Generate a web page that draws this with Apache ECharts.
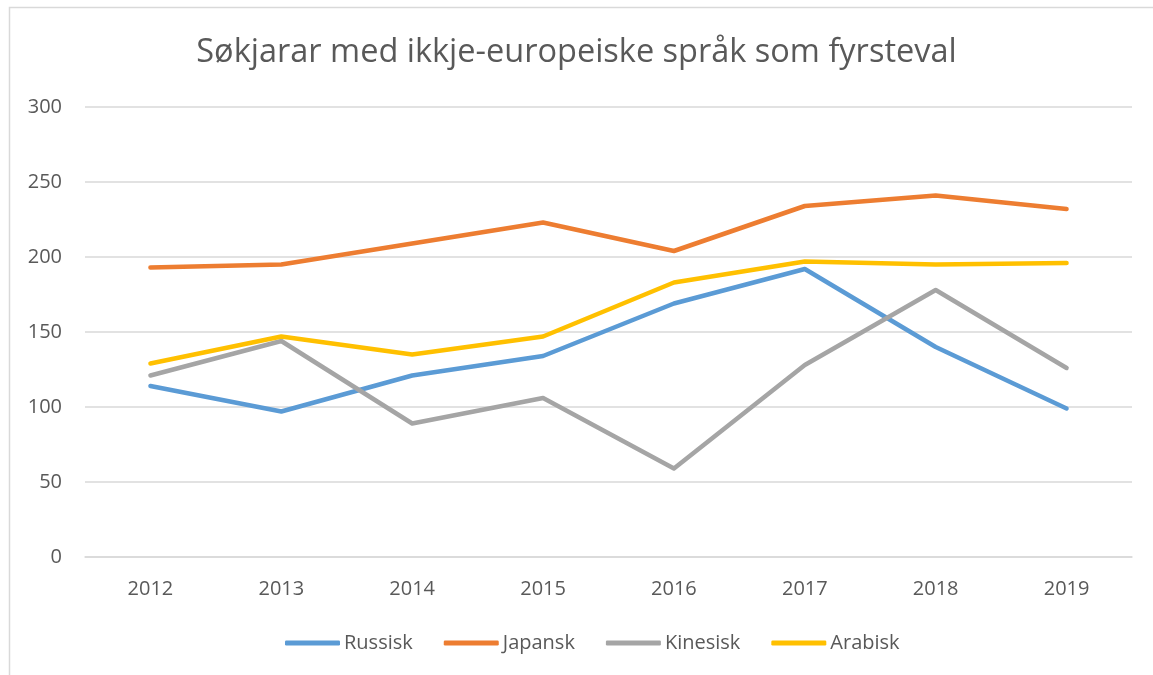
<!DOCTYPE html>
<html>
<head>
<meta charset="utf-8">
<script src="https://cdn.jsdelivr.net/npm/echarts@6/dist/echarts.min.js"></script>
<style>
  html, body { margin: 0; padding: 0; background: #fff; }
  #chart { width: 1153px; height: 675px; }
</style>
</head>
<body>
<div id="chart"></div>
<script>
// data
var years = ['2012', '2013', '2014', '2015', '2016', '2017', '2018', '2019'];
var russisk = [114, 97, 121, 134, 169, 192, 140, 99];
var japansk = [193, 195, 209, 223, 204, 234, 241, 232];
var kinesisk = [121, 144, 89, 106, 59, 128, 178, 126];
var arabisk = [129, 147, 135, 147, 183, 197, 195, 196];

var font = 'Open Sans';

var chart = echarts.init(document.getElementById('chart'));

function line(name, data, color) {
    return {
        name: name,
        type: 'line',
        data: data,
        symbol: 'none',
        smooth: false,
        lineStyle: {
            color: color,
            width: 4.5,
            cap: 'round',
            join: 'round'
        },
        itemStyle: { color: color }
    };
}

var option = {
    backgroundColor: '#ffffff',
    animation: false,
    title: {
        text: 'Søkjarar med ikkje-europeiske språk som fyrsteval',
        left: 'center',
        top: 31,
        textStyle: {
            fontFamily: font,
            fontSize: 32.5,
            fontWeight: 'normal',
            color: '#595959'
        }
    },
    legend: {
        data: ['Russisk', 'Japansk', 'Kinesisk', 'Arabisk'],
        left: 280,
        top: 628,
        icon: 'roundRect',
        itemWidth: 55,
        itemHeight: 5,
        itemGap: 31,
        textStyle: {
            fontFamily: font,
            fontSize: 20,
            color: '#595959',
            padding: [0, 0, 0, -1]
        }
    },
    grid: {
        left: 85,
        right: 21,
        top: 107,
        bottom: 118
    },
    xAxis: {
        type: 'category',
        data: years,
        boundaryGap: true,
        axisLine: { lineStyle: { color: '#d9d9d9', width: 1.5 } },
        axisTick: { show: false },
        axisLabel: {
            margin: 22,
            fontFamily: font,
            fontSize: 20,
            color: '#595959'
        }
    },
    yAxis: {
        type: 'value',
        min: 0,
        max: 300,
        interval: 50,
        axisLine: { show: false },
        axisTick: { show: false },
        splitLine: { lineStyle: { color: '#d9d9d9', width: 1.5 } },
        axisLabel: {
            margin: 23,
            fontFamily: font,
            fontSize: 20,
            color: '#595959'
        }
    },
    graphic: [{
        type: 'rect',
        shape: { x: 9.5, y: 7.5, width: 1200, height: 700 },
        style: { fill: 'none', stroke: '#d9d9d9', lineWidth: 1.5 },
        silent: true
    }],
    series: [
        line('Russisk', russisk, '#5B9BD5'),
        line('Japansk', japansk, '#ED7D31'),
        line('Kinesisk', kinesisk, '#A5A5A5'),
        line('Arabisk', arabisk, '#FFC000')
    ]
};

chart.setOption(option);
</script>
</body>
</html>
